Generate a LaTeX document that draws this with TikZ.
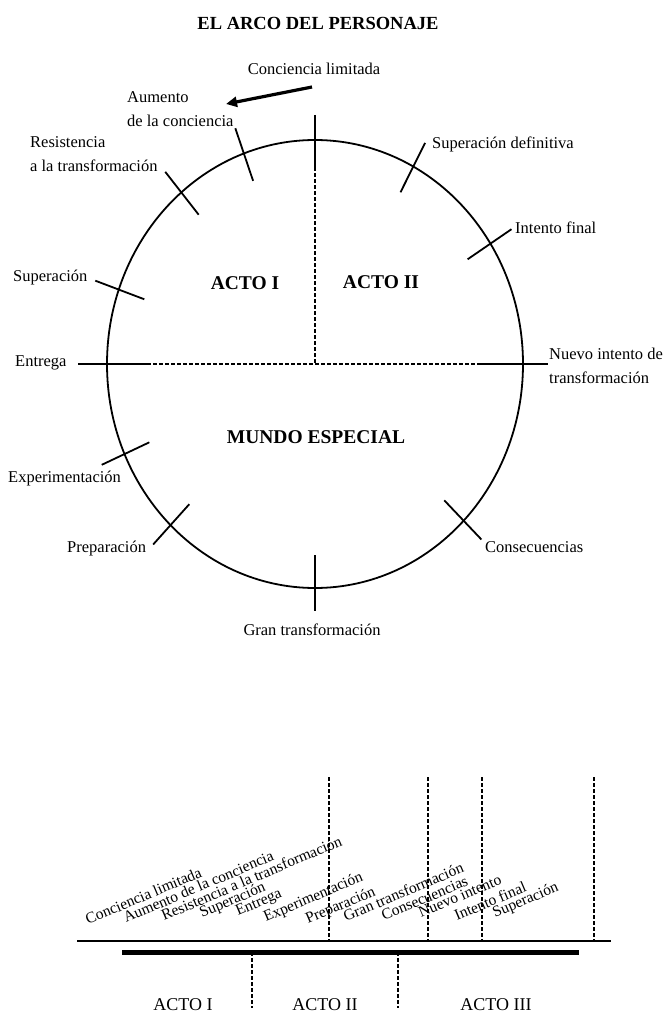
\documentclass[tikz,border=0pt]{standalone}
\usepackage{fontspec}
\setmainfont{Liberation Serif}
\usetikzlibrary{arrows.meta}
\begin{document}
\begin{tikzpicture}[x=1pt,y=-1pt,
  lbl/.style={font=\fontsize{16.5}{24}\selectfont, inner sep=0pt},
  act/.style={font=\fontsize{19.5}{24}\selectfont\bfseries, inner sep=0pt},
  actb/.style={font=\fontsize{18}{22}\selectfont, inner sep=0pt},
  tl/.style={font=\fontsize{15.5}{18}\selectfont, inner sep=0pt, rotate=23, anchor=base west},
  rim/.style={line width=1.8pt},
  tick/.style={line width=1.8pt},
  dsh/.style={line width=1.8pt, dash pattern=on 3.5pt off 2.5pt},
]
\useasboundingbox (0,0) rectangle (667,1022);

% ---------- title ----------
\node[font=\fontsize{18.5}{22}\selectfont\bfseries, inner sep=0pt] (title) at (318,23) {EL ARCO DEL PERSONAJE};

% ---------- the arc as an ellipse ----------
\coordinate (O) at (315,364);
\draw[rim] (O) ellipse [x radius=208pt, y radius=224pt];

% ticks across the rim
\foreach \t/\nm in {110/aum,130/res,160.6/sup,203.7/exp,226/pre,315.6/con,32.5/fin,61.8/def}{
  \coordinate (\nm-o) at ({315+1.12*208*cos(\t)},{364-1.12*224*sin(\t)});
  \coordinate (\nm-i) at ({315+0.87*208*cos(\t)},{364-0.87*224*sin(\t)});
  \draw[tick] (\nm-o) -- (\nm-i);
}

% top, sides and bottom markers with the act dividers
\coordinate (top-o) at (315,115);
\coordinate (top-i) at (315,167);
\coordinate (ent-o) at (78,364);
\coordinate (ent-i) at (147,364);
\coordinate (nue-i) at (478,364);
\coordinate (nue-o) at (548,364);
\coordinate (gran-i) at (315,555);
\coordinate (gran-o) at (315,611);
\draw[tick] (top-o) -- (top-i);
\draw[dsh] (top-i) -- (O);
\draw[tick] (ent-o) -- (ent-i);
\draw[dsh] (ent-i) -- (nue-i);
\draw[tick] (nue-i) -- (nue-o);
\draw[tick] (gran-i) -- (gran-o);

% direction arrow
\coordinate (arr-s) at (312,87);
\coordinate (arr-e) at (226,104);
\draw[line width=3.2pt, -{Triangle[length=11pt,width=10pt]}] (arr-s) -- (arr-e);

% labels round the arc
\node[lbl] (l-lim) at (314,69) {Conciencia limitada};
\node[lbl, align=left, anchor=west] (l-aum) at (127,109) {Aumento\\de la conciencia};
\node[lbl, align=left, anchor=west] (l-res) at (30,154) {Resistencia\\a la transformación};
\node[lbl, anchor=west] (l-sup) at (13,278) {Superación};
\node[lbl, anchor=west] (l-ent) at (15,363) {Entrega};
\node[lbl, anchor=west] (l-exp) at (8,479) {Experimentación};
\node[lbl, anchor=west] (l-pre) at (67,549) {Preparación};
\node[lbl] (l-gran) at (312,630) {Gran transformación};
\node[lbl, anchor=west] (l-con) at (485,547) {Consecuencias};
\node[lbl, align=left, anchor=west] (l-nue) at (549,366) {Nuevo intento de\\transformación};
\node[lbl, anchor=west] (l-fin) at (515,228) {Intento final};
\node[lbl, anchor=west] (l-def) at (432,144) {Superación definitiva};

\node[act] (a1) at (245,283) {ACTO I};
\node[act] (a2) at (381,282) {ACTO II};
\node[act] (mw) at (316,437) {MUNDO ESPECIAL};

% ---------- linear timeline ----------
\coordinate (ln-l) at (77,941);
\coordinate (ln-r) at (611,941);
\coordinate (bar-l) at (122,952);
\coordinate (bar-r) at (579,952);
\draw[line width=1.8pt] (ln-l) -- (ln-r);
\draw[line width=5pt] (bar-l) -- (bar-r);

\foreach \x/\nm in {329/u1,428/u2,482/u3,594/u4}{
  \coordinate (\nm-t) at (\x,777);
  \coordinate (\nm-b) at (\x,941);
  \draw[dsh] (\nm-t) -- (\nm-b);
}
\foreach \x/\nm in {252/d1,398/d2}{
  \coordinate (\nm-t) at (\x,952);
  \coordinate (\nm-b) at (\x,1008);
  \draw[dsh] (\nm-t) -- (\nm-b);
}

% stage names along the line
\node[tl] (t1) at (88,925) {Conciencia limitada};
\node[tl] (t2) at (126,923) {Aumento de la conciencia};
\node[tl] (t3) at (164,921) {Resistencia a la transformación};
\node[tl] (t4) at (202,918) {Superación};
\node[tl] (t5) at (238,916) {Entrega};
\node[tl] (t6) at (266,922) {Experimentación};
\node[tl] (t7) at (308,924) {Preparación};
\node[tl] (t8) at (346,922) {Gran transformación};
\node[tl] (t9) at (384,921) {Consecuencias};
\node[tl] (t10) at (421,918) {Nuevo intento};
\node[tl] (t11) at (457,921) {Intento final};
\node[tl] (t12) at (495,918) {Superación};

\node[actb] (b1) at (183,1005) {ACTO I};
\node[actb] (b2) at (325,1005) {ACTO II};
\node[actb] (b3) at (496,1005) {ACTO III};
\end{tikzpicture}
\end{document}
